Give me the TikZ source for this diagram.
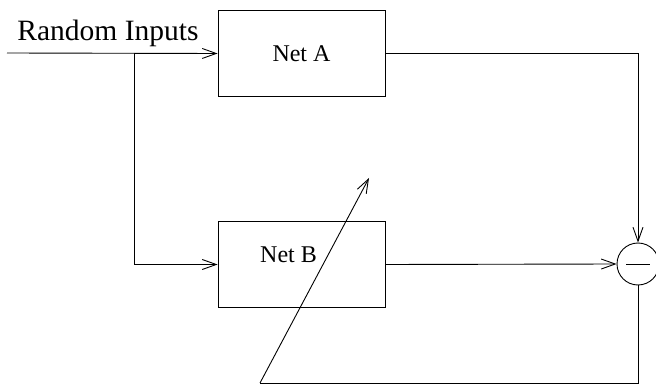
\documentclass[tikz,border=0pt]{standalone}
\usepackage{fontspec}
\setmainfont{Liberation Serif}
\usetikzlibrary{arrows.meta}
\begin{document}
\begin{tikzpicture}[x=1pt,y=-1pt,
  every path/.style={line width=0.9pt},
  arr/.style={-{Straight Barb[length=14pt,width=10pt,line width=0.9pt]}},
  box/.style={draw,line width=0.9pt,minimum width=167pt,minimum height=86pt,inner sep=0pt,font=\fontsize{24}{28}\selectfont},
  lbl/.style={inner sep=0pt,font=\fontsize{24}{28}\selectfont},
  sumnode/.style={draw,circle,minimum size=42pt,inner sep=0pt,line width=0.9pt}]
\useasboundingbox (0,0) rectangle (656,390);
\node[box] (netA) at (301.5,53.5) {Net A};
\node[box] (netB) at (301.5,264.5) {};
\node[lbl,anchor=base] (netBtext) at (288.5,262) {Net B};
\node[sumnode] (sum) at (638,264) {};
\draw ([xshift=-12pt]sum.center) -- ([xshift=12pt]sum.center);
\coordinate (in) at (7,53);
\coordinate (branch) at (134,53);
\node[lbl,anchor=base west,font=\fontsize{29.5}{34}\selectfont] (rin) at (17,41) {Random Inputs};
\draw[arr] (in) -- (netA.west);
\draw[arr] (branch) |- (netB.west);
\draw[arr] (netA.east) -| (sum.north);
\draw[arr] (netB.east) -- (sum.west);
\coordinate (tail) at (260,383);
\coordinate (tip) at (369,178);
\draw (sum.south) |- (tail);
\draw[arr] (tail) -- (tip);
\end{tikzpicture}
\end{document}
